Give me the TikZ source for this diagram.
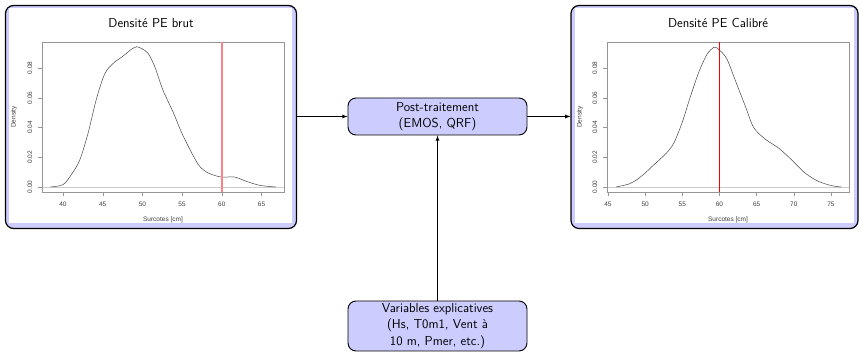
\documentclass[tikz,border=0pt]{standalone}
\usepackage{fontspec}
\newfontfamily\plotfont{Liberation Sans}
\usetikzlibrary{arrows, positioning, calc}
\definecolor{lavande}{RGB}{204,204,255}
\definecolor{axisgray}{RGB}{150,150,150}
\definecolor{curvegray}{RGB}{70,70,70}
\definecolor{rougeclair}{RGB}{255,130,130}
\definecolor{rougevif}{RGB}{255,0,0}

\tikzset{
  panel/.style={draw=black, line width=1.2pt, rounded corners=8pt, fill=lavande,
    minimum width=291pt, minimum height=223pt, inner sep=0pt},
  procbox/.style={draw=black, line width=0.9pt, rounded corners=8pt, fill=lavande,
    align=center, font=\sffamily\fontsize{13}{16.5}\selectfont, minimum width=179pt, inner sep=2pt},
  titre/.style={font=\sffamily\fontsize{13}{15}\selectfont},
  ticklbl/.style={font=\plotfont\fontsize{6.5}{7}\selectfont, text=black!75, inner sep=0pt},
}

\begin{document}
\begin{tikzpicture}[x=1pt, y=-1pt]
\useasboundingbox (0,0) rectangle (859,352);

% cadres des deux densites
\node[panel] (brut) at (151,117) {};
\node[panel, minimum width=287pt] (calib) at (714.5,117) {};
\fill[white] (9,8) rectangle (292,223);
\fill[white] (575,8) rectangle (854,223);
\node[titre] (titrebrut) at (151,23) {Densité PE brut};
\node[titre] (titrecalib) at (718,23) {Densité PE Calibré};

% densite brute
\draw[black!20] (42,187) -- (284,187);
\draw[axisgray] (42,42) rectangle (284,192);
\foreach \v in {40,45,...,65} {
  \draw[axisgray] (63+7.94*\v-317.6,192) -- ++(0,4) node[below=6pt, ticklbl] {\v};
}
\foreach \d/\lbl in {0/0.00,2/0.02,4/0.04,6/0.06,8/0.08} {
  \draw[axisgray] (42,187-14.875*\d) -- ++(-4,0);
  \node[ticklbl, rotate=90] at (30,187-14.875*\d) {\lbl};
}
\node[ticklbl, rotate=90] (ylbrut) at (14,117) {Density};
\node[ticklbl] (xlbrut) at (163,220) {Surcotes [cm]};
\begin{scope}[shift={(63,187)}, x=7.94pt, y=14.875pt]
  \draw[curvegray, line width=0.5pt] plot[smooth] coordinates {(-1.6,0) (0,0.16) (1.05,0.83)
    (2.1,1.8) (3.15,3.6) (4.2,5.9) (5.25,7.6) (6.3,8.3) (7.56,8.8) (8.6,9.25) (9.3,9.43)
    (9.9,9.3) (10.7,9.0) (11.55,8.1) (12.6,6.5) (13.9,5.0) (14.9,3.7) (16.2,2.3) (17.2,1.4)
    (18.3,0.94) (19.9,0.67) (21.6,0.67) (23.1,0.38) (24.8,0.11) (26.8,0)};
\end{scope}
\draw[rougeclair, line width=1.6pt] (221.8,42) -- (221.8,192);

% densite calibree
\draw[black!20] (607,187) -- (849,187);
\draw[axisgray] (607,42) rectangle (849,192);
\foreach \v in {45,50,...,75} {
  \draw[axisgray] (608+7.433*\v-334.5,192) -- ++(0,4) node[below=6pt, ticklbl] {\v};
}
\foreach \d/\lbl in {0/0.00,2/0.02,4/0.04,6/0.06,8/0.08} {
  \draw[axisgray] (607,187-14.875*\d) -- ++(-4,0);
  \node[ticklbl, rotate=90] at (595,187-14.875*\d) {\lbl};
}
\node[ticklbl, rotate=90] (ylcalib) at (580,117) {Density};
\node[ticklbl] (xlcalib) at (728,220) {Surcotes [cm]};
\begin{scope}[shift={(608,187)}, x=7.433pt, y=14.875pt]
  \draw[curvegray, line width=0.5pt] plot[smooth] coordinates {(1.1,0) (2.8,0.2) (3.9,0.5)
    (5,0.94) (6.1,1.46) (7.7,2.2) (8.8,2.9) (9.95,4.3) (11.1,6.1) (12.2,7.7) (13.3,8.9)
    (14.3,9.4) (15,9.2) (16,8.6) (17.1,7.2) (18.5,5.4) (19.6,4.0) (21.2,3.2) (23,2.6)
    (24.75,1.8) (26.5,0.94) (28.3,0.38) (30.1,0.09) (31.4,0)};
\end{scope}
\draw[rougevif, line width=1.2pt] (719.5,42) -- (719.5,192);

% traitement
\node[procbox, minimum height=37pt] (post) at (437.5,116.5) {Post-traitement\\(EMOS, QRF)};
\node[procbox, minimum height=50pt] (var) at (437.5,326) {Variables explicatives\\(Hs, T0m1, Vent à\\10 m, Pmer, etc.)};
\draw[->,>=latex, line width=0.8pt] (brut.east |- post) -- (post.west);
\draw[->,>=latex, line width=0.8pt] (post.east) -- (calib.west |- post);
\draw[->,>=latex, line width=0.8pt] (var.north) -- (post.south);
\end{tikzpicture}
\end{document}
